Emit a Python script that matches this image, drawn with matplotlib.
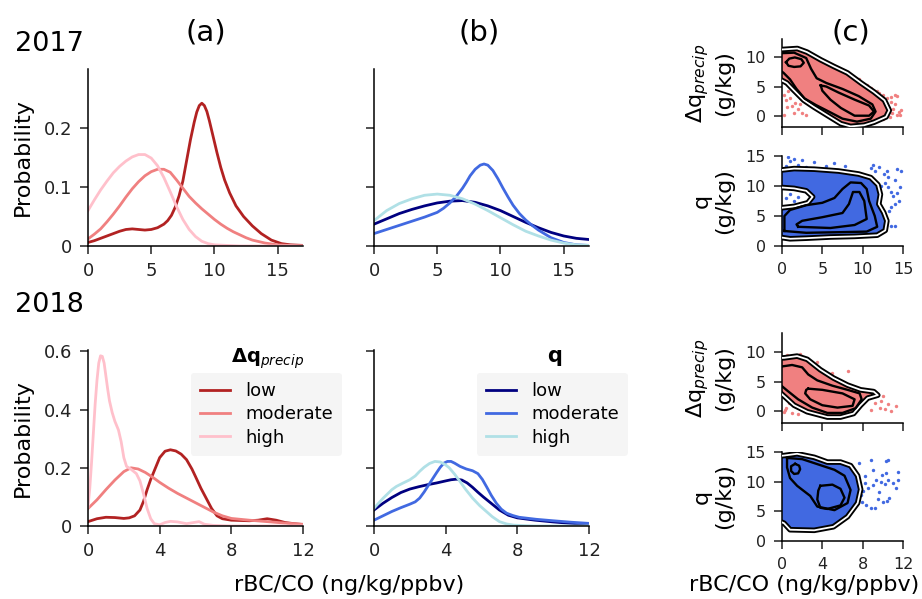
import numpy as np
import matplotlib
matplotlib.use('Agg')
import matplotlib.pyplot as plt

W, H = 922, 599

# ---------------- KDE curves, 2017 ----------------
x17_low = [0, 0.5, 1, 1.5, 2, 2.5, 3, 3.5, 4, 4.5, 5, 5.5, 6, 6.3, 6.6, 6.9, 7.2, 7.5, 7.8, 8.1, 8.4, 8.6, 8.8, 9.0, 9.2, 9.4, 9.6, 9.9, 10.2, 10.5, 10.8, 11.2, 11.7, 12.3, 13, 13.7, 14.5, 15.3, 16, 17]
y17_low = [0.006, 0.009, 0.013, 0.017, 0.021, 0.025, 0.028, 0.029, 0.028, 0.027, 0.028, 0.031, 0.037, 0.043, 0.052, 0.066, 0.085, 0.11, 0.145, 0.18, 0.21, 0.227, 0.238, 0.242, 0.238, 0.228, 0.212, 0.185, 0.158, 0.133, 0.112, 0.09, 0.068, 0.05, 0.034, 0.021, 0.01, 0.004, 0.002, 0.001]
x17_mod = [0, 0.5, 1, 1.5, 2, 2.5, 3, 3.5, 4, 4.5, 5, 5.5, 6, 6.5, 7, 7.5, 8, 8.5, 9, 9.5, 10, 10.5, 11, 11.5, 12, 12.5, 13, 14, 15, 16, 17]
y17_mod = [0.012, 0.02, 0.029, 0.041, 0.054, 0.068, 0.083, 0.097, 0.109, 0.119, 0.126, 0.13, 0.13, 0.125, 0.112, 0.098, 0.084, 0.073, 0.063, 0.054, 0.045, 0.037, 0.03, 0.024, 0.019, 0.014, 0.01, 0.005, 0.002, 0.001, 0.0]
x17_high = [0, 0.5, 1, 1.5, 2, 2.5, 3, 3.5, 4, 4.5, 5, 5.5, 6, 6.5, 7, 7.5, 8, 8.5, 9, 9.5, 10, 11, 12, 17]
y17_high = [0.06, 0.078, 0.095, 0.11, 0.124, 0.135, 0.144, 0.151, 0.155, 0.155, 0.149, 0.136, 0.116, 0.092, 0.067, 0.045, 0.028, 0.016, 0.008, 0.004, 0.002, 0.001, 0.0, 0.0]

xq17_low = [0, 1, 2, 3, 4, 5, 6, 7, 8, 9, 10, 11, 12, 13, 14, 15, 16, 17]
yq17_low = [0.037, 0.046, 0.055, 0.062, 0.068, 0.073, 0.076, 0.077, 0.074, 0.068, 0.06, 0.05, 0.04, 0.031, 0.023, 0.017, 0.013, 0.011]
xq17_mod = [0, 1, 2, 3, 4, 5, 5.5, 6, 6.5, 7, 7.3, 7.6, 8.0, 8.4, 8.7, 9.0, 9.4, 9.8, 10.2, 10.6, 11.0, 11.5, 12.0, 12.5, 13, 14, 15, 16, 17]
yq17_mod = [0.021, 0.028, 0.035, 0.042, 0.049, 0.057, 0.064, 0.073, 0.084, 0.098, 0.108, 0.119, 0.13, 0.137, 0.139, 0.137, 0.128, 0.114, 0.098, 0.083, 0.069, 0.055, 0.044, 0.035, 0.027, 0.014, 0.006, 0.002, 0.001]
xq17_high = [0, 1, 2, 3, 4, 5, 6, 7, 8, 9, 10, 11, 12, 13, 14, 15, 16, 17]
yq17_high = [0.043, 0.06, 0.072, 0.08, 0.086, 0.088, 0.086, 0.08, 0.071, 0.06, 0.048, 0.036, 0.025, 0.017, 0.01, 0.005, 0.002, 0.001]

# ---------------- KDE curves, 2018 ----------------
x18_low = [0, 0.5, 1, 1.5, 2, 2.3, 2.6, 2.9, 3.1, 3.3, 3.5, 3.7, 4.0, 4.3, 4.6, 4.9, 5.2, 5.5, 5.8, 6.0, 6.3, 6.6, 6.9, 7.2, 7.5, 8, 8.5, 9, 9.5, 10, 10.5, 11, 11.5, 12]
y18_low = [0.015, 0.025, 0.03, 0.029, 0.026, 0.028, 0.035, 0.055, 0.085, 0.125, 0.16, 0.19, 0.235, 0.257, 0.262, 0.258, 0.247, 0.228, 0.196, 0.17, 0.13, 0.095, 0.06, 0.035, 0.025, 0.02, 0.019, 0.018, 0.02, 0.025, 0.02, 0.012, 0.008, 0.005]
x18_mod = [0, 0.5, 1, 1.5, 2, 2.4, 2.8, 3.2, 3.6, 4, 4.5, 5, 5.5, 6, 6.5, 7, 7.5, 8, 9, 10, 11, 12]
y18_mod = [0.06, 0.09, 0.125, 0.158, 0.187, 0.2, 0.196, 0.184, 0.168, 0.15, 0.13, 0.112, 0.096, 0.08, 0.064, 0.048, 0.035, 0.026, 0.02, 0.015, 0.01, 0.006]
x18_high = [0, 0.1, 0.2, 0.3, 0.4, 0.5, 0.6, 0.7, 0.8, 0.9, 1.0, 1.1, 1.2, 1.35, 1.5, 1.7, 1.85, 2.0, 2.15, 2.4, 2.7, 2.9, 3.1, 3.3, 3.5, 3.7, 4.0, 4.3, 4.6, 5.0, 5.5, 5.9, 6.2, 6.5, 7, 8, 12]
y18_high = [0.065, 0.13, 0.22, 0.32, 0.42, 0.5, 0.56, 0.585, 0.583, 0.56, 0.515, 0.47, 0.43, 0.39, 0.36, 0.33, 0.29, 0.235, 0.205, 0.195, 0.18, 0.155, 0.11, 0.06, 0.025, 0.008, 0.004, 0.012, 0.016, 0.014, 0.008, 0.012, 0.015, 0.006, 0.002, 0.0, 0.0]

xq18_low = [0, 0.5, 1, 1.5, 2, 2.5, 3, 3.5, 4, 4.3, 4.6, 4.9, 5.2, 5.5, 5.8, 6.1, 6.5, 7, 7.5, 8, 9, 10, 11, 12]
yq18_low = [0.055, 0.078, 0.098, 0.115, 0.127, 0.135, 0.142, 0.148, 0.155, 0.159, 0.161, 0.158, 0.148, 0.133, 0.116, 0.1, 0.08, 0.055, 0.037, 0.028, 0.02, 0.014, 0.009, 0.005]
xq18_mod = [0, 0.5, 1, 1.5, 2, 2.3, 2.55, 2.8, 3.05, 3.3, 3.5, 3.7, 3.9, 4.1, 4.3, 4.5, 4.8, 5.15, 5.5, 5.8, 6.05, 6.3, 6.55, 6.83, 7.1, 7.4, 7.75, 8.1, 9.06, 10, 11, 12]
yq18_mod = [0.02, 0.035, 0.05, 0.063, 0.075, 0.083, 0.096, 0.117, 0.141, 0.165, 0.184, 0.202, 0.216, 0.222, 0.222, 0.216, 0.205, 0.196, 0.19, 0.18, 0.16, 0.133, 0.105, 0.078, 0.058, 0.044, 0.036, 0.03, 0.023, 0.018, 0.013, 0.009]
xq18_high = [0, 0.5, 1, 1.25, 1.6, 2, 2.3, 2.55, 2.8, 3.1, 3.4, 3.7, 4.0, 4.2, 4.5, 4.8, 5.1, 5.5, 5.9, 6.27, 6.6, 7, 7.4, 7.8, 8.5, 9, 12]
yq18_high = [0.061, 0.095, 0.125, 0.136, 0.147, 0.159, 0.172, 0.188, 0.202, 0.215, 0.222, 0.22, 0.21, 0.2, 0.178, 0.153, 0.127, 0.096, 0.07, 0.05, 0.032, 0.015, 0.007, 0.003, 0.001, 0.0, 0.0]

# ---------------- panel (c): contour outlines and outlying points ----------------
dq17_outer = [(-0.5, 11.2), (0.2, 11.25), (1.9, 11.4), (3.1, 10.8), (4.8, 9.5), (6.4, 8.4), (8.1, 7.3), (9.8, 5.6), (11.4, 4.1), (12.7, 2.7), (13.3, 1.0), (12.9, -0.1), (11.4, -1.0), (10.2, -1.5), (8.5, -1.7), (7.3, -1.25), (5.6, 0.17), (3.9, 1.6), (2.7, 2.7), (1.45, 4.4), (0.6, 5.6), (-0.5, 6.4)]
dq17_mid = [(-0.3, 10.6), (1.5, 10.7), (3.0, 9.8), (3.6, 8.0), (4.3, 6.4), (5.5, 5.6), (7.5, 4.6), (9.5, 3.4), (11.2, 2.0), (11.6, 0.8), (11.0, -0.4), (9.3, -0.9), (7.5, -0.4), (5.8, 0.8), (4.2, 1.9), (2.8, 3.0), (1.8, 4.6), (1.0, 6.2), (0.2, 7.3), (-0.3, 7.8)]
dq17_in1 = [(0.5, 9.1), (0.9, 9.7), (1.6, 9.9), (2.4, 9.6), (2.7, 9.0), (2.3, 8.4), (1.5, 8.3), (0.8, 8.5)]
dq17_in2 = [(4.8, 5.2), (5.5, 5.0), (7.0, 4.0), (9.0, 2.8), (10.8, 1.8), (11.4, 0.8), (10.8, 0.1), (9.0, 0.1), (7.3, 1.4), (6.0, 2.8), (5.0, 4.3)]
dq17_px = [12.5, 13.0, 13.5, 14.0, 14.3, 13.2, 13.8, 14.5, 14.2, 13.6, 12.8, 13.1, 14.6, 11.8, 12.0, 13.5, 14.0, 11.0, 10.5, 9.5, 12.5, 0.2, 0.5, 1.0, 0.6, 1.5, 0.3, 1.2, 2.0, 2.5, 3.0, 0.8, 1.6, 2.2, 14.8, 13.4]
dq17_py = [3.5, 3.0, 3.3, 3.5, 3.4, 1.5, 1.2, 0.8, 0.3, 0.5, 0.2, 0.8, 0.2, 4.2, 3.9, 2.4, 2.0, 4.8, 5.2, 6.2, -0.5, 3.5, 2.8, 3.0, 1.5, 0.5, 0.2, 1.8, 1.2, 0.6, 0.3, 4.2, 2.2, 2.0, 1.0, -0.2]

q17_outer = [(-0.5, 12.6), (1.5, 12.9), (4.0, 12.8), (7.0, 12.5), (9.5, 12.0), (11.0, 11.4), (11.9, 10.2), (12.2, 8.6), (12.0, 7.0), (12.6, 5.6), (13.0, 4.2), (12.8, 2.6), (11.8, 1.8), (9.0, 1.6), (6.0, 1.5), (3.0, 1.3), (1.0, 1.2), (-0.5, 1.5), (-0.5, 6.3), (1.5, 6.6), (3.2, 7.2), (3.8, 8.2), (3.0, 9.2), (1.5, 9.6), (-0.5, 9.8)]
q17_mid = [(0.3, 2.5), (3.0, 2.2), (7.0, 2.3), (10.5, 2.4), (11.8, 3.2), (11.5, 5.0), (10.8, 7.5), (10.5, 9.5), (9.8, 10.5), (8.5, 10.6), (7.5, 9.5), (6.5, 8.0), (5.0, 7.2), (3.0, 6.8), (1.0, 6.0), (0.3, 5.0)]
q17_in = [(2.0, 3.2), (6.0, 3.0), (9.0, 3.5), (10.5, 4.5), (10.2, 7.5), (9.6, 9.0), (8.8, 9.0), (8.3, 7.0), (7.5, 5.5), (5.0, 4.8), (2.5, 4.2), (1.8, 3.6)]
q17_px = [12.3, 12.8, 13.2, 13.5, 13.8, 14.2, 14.5, 14.0, 13.5, 12.7, 13.0, 12.0, 11.3, 11.0, 14.3, 14.7, 14.0, 13.2, 13.5, 14.0, 12.7, 13.3, 14.6, 11.5, 0.8, 1.0, 1.5, 0.5, 2.0, 4.0, 6.5, 5.5, 3.0, 7.8, 2.5, 0.5, 1.0, 2.0, 1.5, 3.0]
q17_py = [10.0, 10.5, 9.8, 9.0, 8.3, 8.8, 7.5, 7.0, 6.5, 12.0, 12.5, 13.2, 13.5, 13.0, 12.8, 12.5, 11.0, 11.5, 3.3, 3.3, 3.3, 5.8, 9.8, 12.5, 14.8, 14.2, 14.5, 13.3, 13.5, 14.0, 13.8, 13.3, 13.2, 13.3, 14.3, 8.0, 8.7, 8.2, 7.5, 9.5]

dq18_outer = [(-0.5, 9.0), (0.2, 9.0), (1.5, 9.3), (2.5, 8.75), (3.8, 7.0), (5.1, 5.6), (6.5, 4.4), (7.8, 3.6), (9.1, 3.3), (9.5, 2.7), (8.5, 2.2), (7.8, 1.0), (7.1, -0.4), (5.8, -1.0), (4.5, -1.0), (2.5, -0.1), (1.2, 1.0), (0.3, 2.4), (-0.5, 3.6)]
dq18_mid = [(-0.2, 7.5), (1.0, 7.8), (2.0, 7.4), (2.6, 6.2), (3.5, 5.2), (5.0, 4.3), (6.5, 3.6), (7.7, 3.0), (7.9, 2.0), (7.3, 0.5), (6.0, -0.3), (4.5, -0.3), (3.0, 0.6), (1.6, 2.0), (0.5, 3.5), (-0.2, 4.5)]
dq18_in = [(2.6, 3.8), (4.0, 3.6), (6.0, 3.0), (7.2, 2.0), (7.0, 0.9), (5.5, 0.6), (4.0, 1.0), (2.8, 2.0), (2.3, 3.0), (2.4, 3.6)]
dq18_px = [8.5, 9.0, 10.0, 10.5, 10.2, 11.3, 9.7, 9.2, 8.8, 10.8, 6.5, 5.0, 8.0, 9.8, 0.2, 0.4, 1.0, 1.6, 0.7, 0.3, 0.5, 1.8, 3.5, 4.8]
dq18_py = [3.0, 2.5, 2.6, 1.2, 0.3, 0.9, 0.5, 1.4, 0.2, 0.1, 6.8, 6.5, 3.8, 1.8, -0.1, 0.6, -0.3, -0.5, 1.4, 0.2, 9.5, 9.6, 8.3, 6.2]

q18_outer = [(-0.5, 14.3), (0.2, 14.4), (1.5, 14.7), (3.2, 14.1), (4.5, 13.3), (5.8, 13.3), (6.8, 12.7), (7.5, 11.0), (7.8, 8.7), (7.5, 6.4), (6.5, 4.1), (5.1, 2.4), (3.2, 1.8), (0.8, 1.9), (0.2, 3.0), (-0.5, 3.5)]
q18_mid = [(0.5, 14.0), (2.0, 13.8), (3.6, 12.9), (5.2, 12.0), (6.2, 11.0), (6.8, 8.6), (6.5, 6.4), (5.2, 5.2), (3.5, 5.8), (2.8, 7.6), (1.5, 9.3), (0.8, 10.6), (0.5, 12.4)]
q18_in1 = [(1.3, 13.0), (1.7, 12.7), (1.8, 12.1), (1.6, 11.4), (1.2, 11.3), (0.9, 11.8), (0.9, 12.6)]
q18_in2 = [(3.8, 9.3), (5.0, 9.5), (5.8, 8.8), (6.2, 7.3), (5.8, 6.0), (4.5, 5.4), (3.8, 5.6), (3.5, 7.0), (3.6, 8.5)]
q18_px = [8.2, 8.5, 9.0, 9.3, 9.8, 10.2, 10.5, 11.0, 11.5, 11.5, 10.5, 10.3, 8.8, 7.6, 9.5, 10.0, 10.4, 8.3, 8.8, 9.2, 7.8, 8.0, 9.6, 10.6, 11.3, 9.9, 10.3, 9.0, 8.2, 7.9]
q18_py = [9.8, 9.0, 9.5, 10.2, 10.0, 9.6, 10.3, 9.8, 10.2, 11.7, 13.7, 13.5, 13.6, 13.2, 7.0, 6.5, 6.8, 6.0, 5.6, 5.5, 7.8, 8.5, 8.3, 7.3, 9.0, 11.2, 11.5, 12.0, 11.0, 6.6]

reds = ['firebrick', 'lightcoral', 'pink']
blues = ['navy', 'royalblue', 'powderblue']
labels = ['low', 'moderate', 'high']


def rect(l, r, t, b):
    return [l / W, 1 - b / H, (r - l) / W, (b - t) / H]


def style(ax, size=13):
    for s in ['top', 'right']:
        ax.spines[s].set_visible(False)
    for s in ['left', 'bottom']:
        ax.spines[s].set_linewidth(1.1)
    ax.tick_params(labelsize=size, length=6, width=1.1, pad=5.5, colors='#222222')


def closed(poly):
    a = np.array(poly)
    return np.vstack([a, a[:1]])


def draw_c(ax, outer, inner, px, py, color):
    o = closed(outer)
    ax.fill(o[:, 0], o[:, 1], color=color, lw=0, zorder=1)
    ax.scatter(px, py, s=6, color=color, lw=0, zorder=2)
    ax.plot(o[:, 0], o[:, 1], color='k', lw=4.0, zorder=3)
    ax.plot(o[:, 0], o[:, 1], color='white', lw=1.3, zorder=3)
    for c in inner:
        c = closed(c)
        ax.plot(c[:, 0], c[:, 1], color='k', lw=1.7, zorder=3)


fig = plt.figure(figsize=(W / 100, H / 100), dpi=100)

# ---- 2017 ----
a1 = fig.add_axes(rect(88, 303, 69, 246))
b1 = fig.add_axes(rect(374, 589, 69, 246))
for x, y, c in zip([x17_low, x17_mod, x17_high], [y17_low, y17_mod, y17_high], reds):
    a1.plot(x, y, color=c, lw=2)
for x, y, c in zip([xq17_low, xq17_mod, xq17_high], [yq17_low, yq17_mod, yq17_high], blues):
    b1.plot(x, y, color=c, lw=2)
for ax in [a1, b1]:
    style(ax)
    ax.set_xlim(0, 17)
    ax.set_ylim(0, 0.3)
    ax.set_xticks([0, 5, 10, 15])
    ax.set_yticks([0, 0.1, 0.2])
a1.set_yticklabels(['0', '0.1', '0.2'])
b1.set_yticklabels([])
a1.set_ylabel('Probability', fontsize=16, labelpad=8)

# ---- 2018 ----
a2 = fig.add_axes(rect(88, 303, 350, 526))
b2 = fig.add_axes(rect(374, 589, 350, 526))
for x, y, c, l in zip([x18_low, x18_mod, x18_high], [y18_low, y18_mod, y18_high], reds, labels):
    a2.plot(x, y, color=c, lw=2, label=l)
for x, y, c, l in zip([xq18_low, xq18_mod, xq18_high], [yq18_low, yq18_mod, yq18_high], blues, labels):
    b2.plot(x, y, color=c, lw=2, label=l)
for ax in [a2, b2]:
    style(ax)
    ax.set_xlim(0, 12)
    ax.set_ylim(0, 0.605)
    ax.set_xticks([0, 4, 8, 12])
    ax.set_yticks([0, 0.2, 0.4, 0.6])
    ax.legend(loc='upper right', bbox_to_anchor=(1.18, 0.87), borderaxespad=0,
              fontsize=13, handlelength=1.7, labelspacing=0.3, borderpad=0.5,
              frameon=True, facecolor='#f5f5f5', edgecolor='none', framealpha=1)
a2.set_yticklabels(['0', '0.2', '0.4', '0.6'])
b2.set_yticklabels([])
a2.set_ylabel('Probability', fontsize=16, labelpad=8)

fig.text(268 / W, 1 - 363 / H, r'$\mathbf{\Delta q}_{precip}$', fontsize=14, ha='center', va='baseline')
fig.text(555 / W, 1 - 362 / H, 'q', fontsize=15, fontweight='bold', ha='center', va='baseline')

# ---- panel (c) ----
dq_lab = '$\\Delta \\mathrm{q}_{precip}$\n(g/kg)'
q_lab = 'q\n(g/kg)'
c11 = fig.add_axes(rect(782, 903, 39, 127))
c12 = fig.add_axes(rect(782, 903, 156, 246))
c21 = fig.add_axes(rect(782, 903, 333, 423))
c22 = fig.add_axes(rect(782, 903, 452, 541))
draw_c(c11, dq17_outer, [dq17_mid, dq17_in1, dq17_in2], dq17_px, dq17_py, 'lightcoral')
draw_c(c12, q17_outer, [q17_mid, q17_in], q17_px, q17_py, 'royalblue')
draw_c(c21, dq18_outer, [dq18_mid, dq18_in], dq18_px, dq18_py, 'lightcoral')
draw_c(c22, q18_outer, [q18_mid, q18_in1, q18_in2], q18_px, q18_py, 'royalblue')
for ax in [c11, c12, c21, c22]:
    style(ax, 11.5)
for ax in [c11, c12]:
    ax.set_xlim(0, 15)
    ax.set_xticks([0, 5, 10, 15])
for ax in [c21, c22]:
    ax.set_xlim(0, 12)
    ax.set_xticks([0, 4, 8, 12])
for ax in [c11, c21]:
    ax.set_yticks([0, 5, 10])
    ax.set_xticklabels([])
    ax.set_ylabel(dq_lab, fontsize=16, labelpad=8)
for ax in [c12, c22]:
    ax.set_ylim(0, 15)
    ax.set_yticks([0, 5, 10, 15])
    ax.set_ylabel(q_lab, fontsize=16, labelpad=8)
c11.set_ylim(-1.8, 13)
c21.set_ylim(-2, 13.2)

# ---- titles and shared labels ----
fig.text(206 / W, 1 - 33 / H, '(a)', fontsize=21, ha='center', va='center')
fig.text(479 / W, 1 - 33 / H, '(b)', fontsize=21, ha='center', va='center')
fig.text(851 / W, 1 - 33 / H, '(c)', fontsize=21, ha='center', va='center')
fig.text(15 / W, 1 - 51 / H, '2017', fontsize=19.5, ha='left', va='baseline')
fig.text(15 / W, 1 - 312 / H, '2018', fontsize=19.5, ha='left', va='baseline')
fig.text(349 / W, 1 - 591 / H, 'rBC/CO (ng/kg/ppbv)', fontsize=16, ha='center', va='baseline')
fig.text(804 / W, 1 - 591 / H, 'rBC/CO (ng/kg/ppbv)', fontsize=16, ha='center', va='baseline')

fig.savefig('out.png', dpi=100)
